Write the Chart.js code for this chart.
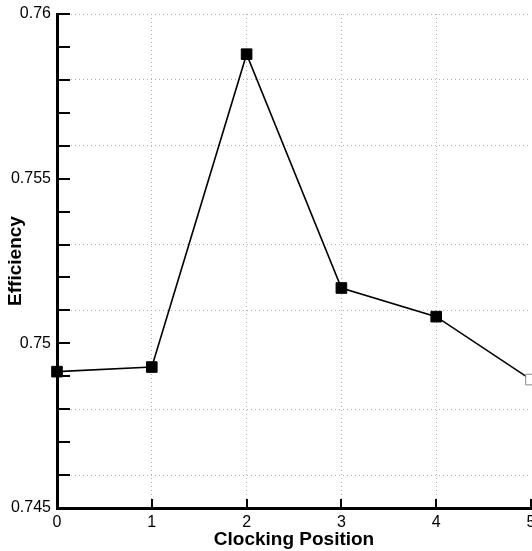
<!DOCTYPE html>
<html>
<head>
<meta charset="utf-8">
<script src="https://cdn.jsdelivr.net/npm/chart.js@4"></script>
<style>
  html, body { margin: 0; padding: 0; background: #fff; }
  #wrap { width: 532px; height: 551px; }
</style>
</head>
<body>
<div id="wrap"><canvas id="chart"></canvas></div>
<script>
// Datos
const clockingPositions = [0, 1, 2, 3, 4, 5];
const efficiency = [0.74914, 0.74928, 0.75878, 0.75168, 0.75081, 0.74890];
const yTickValues = [0.745, 0.75, 0.755, 0.76];
const yTickLabels = ['0.745', '0.75', '0.755', '0.76'];
const xTickLabels = ['0', '1', '2', '3', '4', '5'];

// Líneas de rejilla punteadas que se ven en el escaneo
const yGridValues = [0.760, 0.758, 0.756, 0.753, 0.751, 0.748, 0.746];

const fontFamily = "'Liberation Sans', Arial, sans-serif";

// Marcas de graduación hacia dentro (como en el original)
const inwardTicks = {
  id: 'inwardTicks',
  afterDraw(chart) {
    const { ctx, chartArea, scales } = chart;
    ctx.save();
    ctx.strokeStyle = '#000';
    ctx.lineWidth = 2;
    scales.y.ticks.forEach(t => {
      const y = Math.round(scales.y.getPixelForValue(t.value));
      ctx.beginPath();
      ctx.moveTo(chartArea.left, y);
      ctx.lineTo(chartArea.left + 13, y);
      ctx.stroke();
    });
    scales.x.ticks.forEach(t => {
      if (t.value === 0) return;
      const x = Math.round(scales.x.getPixelForValue(t.value));
      ctx.beginPath();
      ctx.moveTo(x, chartArea.bottom);
      ctx.lineTo(x, chartArea.bottom - 9);
      ctx.stroke();
    });
    ctx.restore();
  }
};

const ctx = document.getElementById('chart').getContext('2d');
new Chart(ctx, {
  type: 'line',
  data: {
    datasets: [{
      label: 'Efficiency',
      data: clockingPositions.map((x, i) => ({ x: x, y: efficiency[i] })),
      borderColor: '#000',
      borderWidth: 1.6,
      pointStyle: 'rect',
      pointRadius: 7.5,
      pointBorderWidth: 1,
      pointBackgroundColor: clockingPositions.map((x, i) => i === clockingPositions.length - 1 ? '#fff' : '#000'),
      pointBorderColor: clockingPositions.map((x, i) => i === clockingPositions.length - 1 ? '#888' : '#000'),
      tension: 0,
      clip: false
    }]
  },
  options: {
    responsive: true,
    maintainAspectRatio: false,
    animation: false,
    layout: { autoPadding: false, padding: { top: 14, right: 1, left: 0, bottom: 0 } },
    plugins: {
      legend: { display: false },
      tooltip: { enabled: false }
    },
    scales: {
      x: {
        type: 'linear',
        min: 0,
        max: 5,
        afterFit: function(scale) {
          scale.height = 43;
          scale.paddingLeft = 0;
          scale.paddingRight = 0;
        },
        ticks: {
          stepSize: 1,
          color: '#000',
          padding: 5,
          maxRotation: 0,
          font: { family: fontFamily, size: 16 },
          callback: function(value) { return xTickLabels[Math.round(value)]; }
        },
        grid: {
          drawTicks: false,
          lineWidth: 1,
          color: function(c) {
            const v = c.tick ? c.tick.value : null;
            return (v > 0 && v < 5) ? '#b0b0b0' : 'rgba(0,0,0,0)';
          }
        },
        border: { display: true, color: '#000', width: 3, dash: [1, 3] },
        title: {
          display: true,
          text: 'Clocking Position',
          color: '#000',
          padding: { top: 7, bottom: 0 },
          font: { family: fontFamily, size: 19, weight: 'bold' }
        }
      },
      y: {
        type: 'linear',
        min: 0.745,
        max: 0.76,
        afterFit: function(scale) {
          scale.width = 57;
          scale.paddingTop = 0;
          scale.paddingBottom = 0;
        },
        ticks: {
          stepSize: 0.001,
          autoSkip: false,
          color: '#000',
          padding: 6,
          font: { family: fontFamily, size: 16 },
          callback: function(value) {
            const k = Math.round(value * 1000);
            const idx = yTickValues.findIndex(v => Math.round(v * 1000) === k);
            return idx >= 0 ? yTickLabels[idx] : '';
          }
        },
        grid: {
          drawTicks: false,
          lineWidth: 1,
          color: function(c) {
            const v = c.tick ? Math.round(c.tick.value * 1000) : null;
            return yGridValues.some(g => Math.round(g * 1000) === v) ? '#b0b0b0' : 'rgba(0,0,0,0)';
          }
        },
        border: { display: true, color: '#000', width: 3, dash: [1, 3] },
        title: {
          display: true,
          text: 'Efficiency',
          color: '#000',
          padding: { top: 4, bottom: 0 },
          font: { family: fontFamily, size: 19, weight: 'bold' }
        }
      }
    }
  },
  plugins: [inwardTicks]
});
</script>
</body>
</html>
